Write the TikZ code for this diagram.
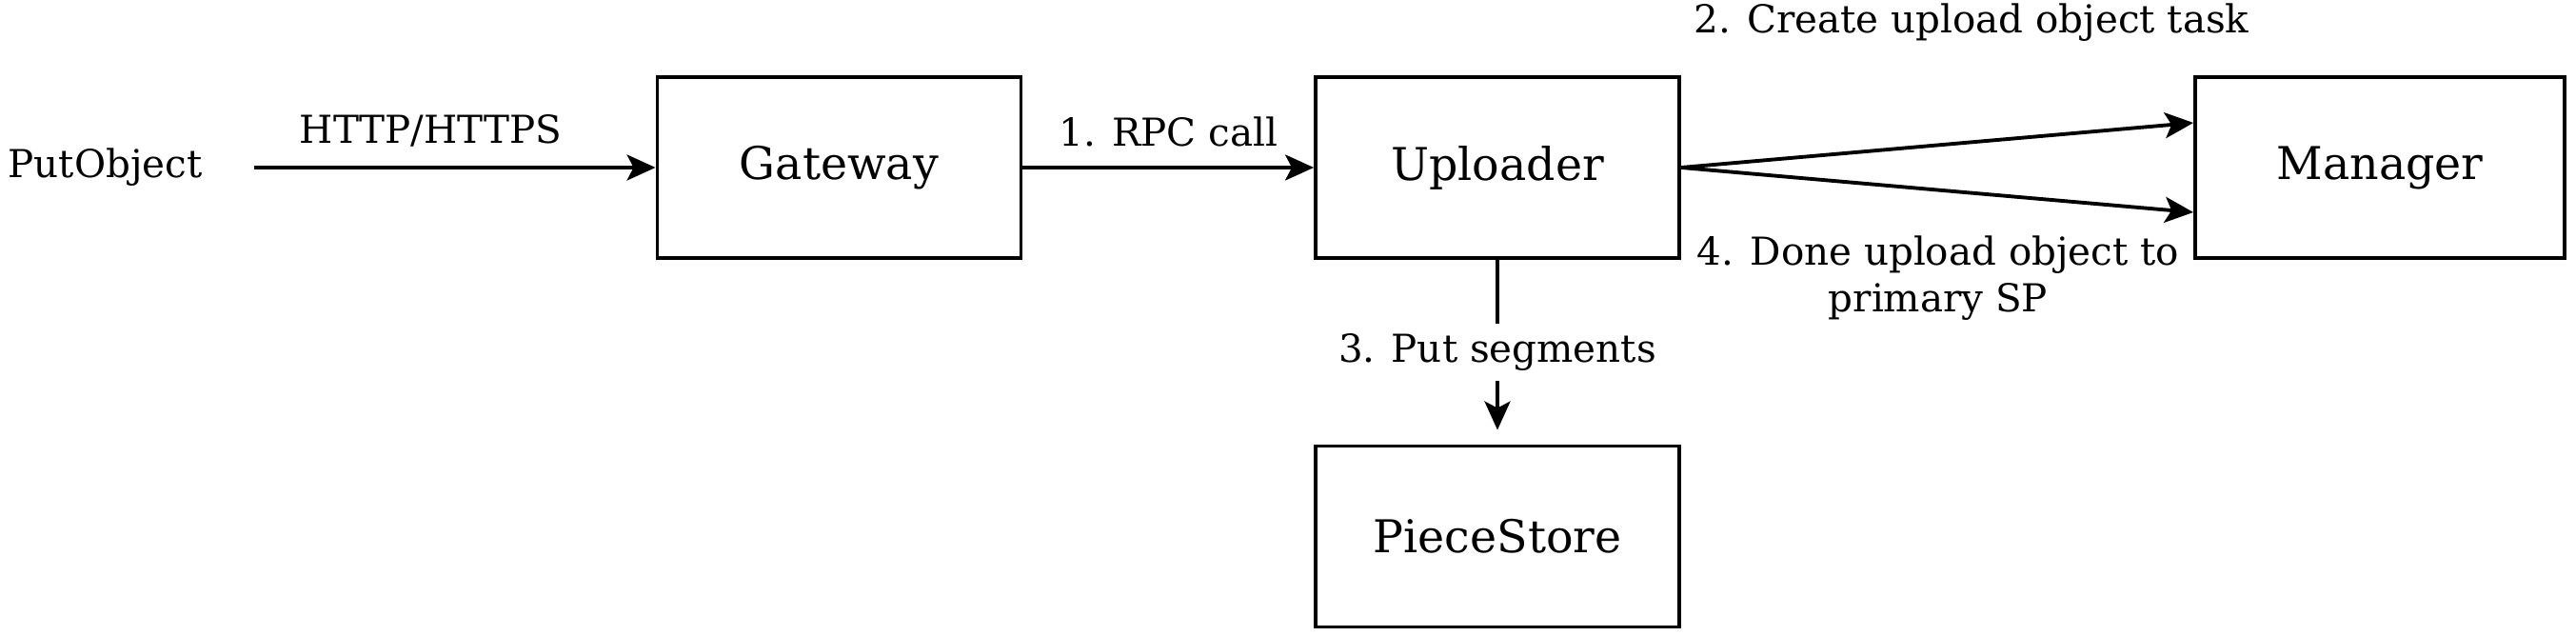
\documentclass[tikz,border=0pt]{standalone}
\usepackage{fontspec}
\setmainfont{DejaVu Serif}
\usetikzlibrary{arrows.meta, calc, positioning}
\tikzset{
    blocco/.style = {draw, line width = 1.1pt, minimum width = 3.82cm, minimum height = 1.90cm, font = \fontsize{13.5}{16}\selectfont},
    etich/.style = {font = \fontsize{11.5}{14}\selectfont, inner sep = 1pt},
    freccia/.style = {line width = 1.1pt, -{Stealth[length = 0.30cm, width = 0.27cm, inset = 0.07cm]}}
}
\begin{document}
\begin{tikzpicture}
    % Parametri
    \pgfmathsetmacro{\yc}{-1.76}
    \pgfmathsetmacro{\dy}{0.47}
    \useasboundingbox (0,0) rectangle (27.06,-6.68);
    % Blocchi
    \node[etich] (putobj) at (1.105,\yc) {PutObject};
    \node[blocco] (gateway) at (8.815,\yc) {Gateway};
    \node[blocco] (uploader) at (15.73,\yc) {Uploader};
    \node[blocco, minimum width = 3.88cm] (manager) at (25.00,\yc) {Manager};
    \node[blocco] (piecestore) at (15.73,-5.635) {PieceStore};
    % Frecce
    \draw[freccia, shorten < = 0.5cm] (putobj.east) -- (gateway.west) node[etich, midway, above = 0.16cm]{HTTP/HTTPS};
    \draw[freccia] (gateway.east) -- (uploader.west) node[etich, midway, above = 0.16cm]{1. RPC call};
    \draw[freccia] (uploader.east) -- ($(manager.west)+(0,\dy)$);
    \draw[freccia] (uploader.east) -- ($(manager.west)-(0,\dy)$);
    \draw[freccia, shorten > = 0.15cm] (uploader.south) -- (piecestore.north) node[etich, midway, fill = white, inner sep = 3pt]{3. Put segments};
    % Etichette
    \node[etich] (crea) at (20.71,-0.24) {2. Create upload object task};
    \node[etich, align = center] (fatto) at (20.36,-2.92) {4. Done upload object to\\primary SP};
\end{tikzpicture}
\end{document}
